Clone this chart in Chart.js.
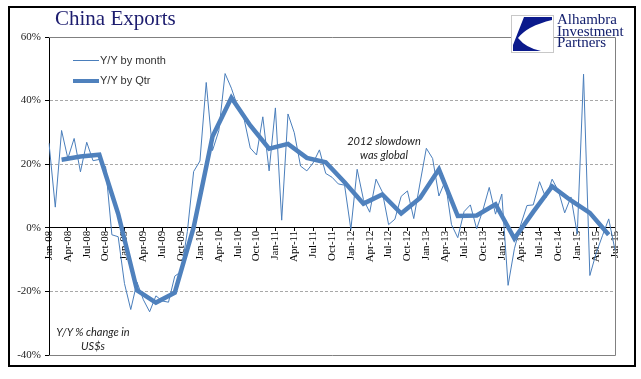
<!DOCTYPE html>
<html>
<head>
<meta charset="utf-8">
<script src="https://cdn.jsdelivr.net/npm/chart.js@4.4.1/dist/chart.umd.min.js"></script>
<style>
  body { margin: 0; background: #fff; }
  #wrap { position: relative; width: 641px; height: 379px; overflow: hidden; }
  #frame { position: absolute; left: 8px; top: 6px; width: 624px; height: 357px; border: 2px solid #000; pointer-events: none; }
  .txt { position: absolute; white-space: nowrap; }
  #title { left: 55px; top: 8px; font: 21px "Liberation Serif", serif; color: #1c1c6e; line-height: 21px; }
  #logoText { left: 557px; top: 14px; font: 15px "Liberation Serif", serif; color: #14206e; line-height: 11.7px; }
  .leg { font: 11px "Liberation Sans", Arial, sans-serif; color: #333; line-height: 13px; }
  .note { font: italic 11px Lato, "Open Sans", sans-serif; color: #222; line-height: 13.5px; text-align: center; }
</style>
</head>
<body>
<div id="wrap">
  <canvas id="chart" width="641" height="379"></canvas>
  <div id="frame"></div>
  <div class="txt" id="title">China Exports</div>
  <svg style="position:absolute;left:511px;top:15px" width="43" height="38" viewBox="0 0 43 38">
    <rect x="0.5" y="0.5" width="42" height="37" fill="#fff" stroke="#c8c8c8"/>
    <path d="M13,2 L41,2 L41,5 Q16,11 7,23 Q15,33 30,36 L2,36 L2,30 Z" fill="#0b1a8c"/>
  </svg>
  <div class="txt" id="logoText">Alhambra<br>Investment<br>Partners</div>

  <div style="position:absolute;left:73px;top:60px;width:26px;height:1px;background:#4a7ebb"></div>
  <div class="txt leg" style="left:100px;top:54px">Y/Y by month</div>
  <div style="position:absolute;left:73px;top:79px;width:26px;height:4px;background:#4f81bd"></div>
  <div class="txt leg" style="left:100px;top:74px">Y/Y by Qtr</div>

  <div class="txt note" style="left:334px;top:134px;width:100px">2012 slowdown<br>was global</div>
  <div class="txt note" style="left:43px;top:325px;width:100px">Y/Y % change in<br>US$s</div>
</div>
<script>
// months Jan-08 .. Jul-15
const monthNames = ['Jan','Feb','Mar','Apr','May','Jun','Jul','Aug','Sep','Oct','Nov','Dec'];
const months = [];
for (let y = 8; y <= 15; y++) {
    for (let m = 0; m < 12; m++) {
        if (y === 15 && m > 6) break;
        months.push(monthNames[m] + '-' + String(y).padStart(2, '0'));
    }
}

// Y/Y by month (%)
const yoyMonth = [
    26.6, 6.5, 30.6, 21.8, 28.1, 17.6, 26.9, 21.1, 21.5, 19.2, -2.2, -2.8,      // 2008
    -17.5, -25.7, -17.1, -22.6, -26.4, -21.4, -23.0, -23.4, -15.2, -13.8, -1.2, 17.7, // 2009
    21.0, 45.7, 24.3, 30.5, 48.5, 43.9, 38.1, 34.4, 25.1, 22.9, 34.9, 17.9,     // 2010
    37.7, 2.4, 35.8, 29.9, 19.4, 17.9, 20.4, 24.5, 17.1, 15.9, 13.8, 13.4,      // 2011
    -0.5, 18.4, 8.9, 4.9, 15.3, 11.3, 1.0, 2.7, 9.9, 11.6, 2.9, 14.1,           // 2012
    25.0, 21.8, 10.0, 14.7, 1.0, -3.1, 5.1, 7.2, -0.3, 5.6, 12.7, 4.3,          // 2013
    10.6, -18.1, -6.6, 0.9, 7.0, 7.2, 14.5, 9.4, 15.3, 11.6, 4.7, 9.7,          // 2014
    -2.0, 48.3, -15.0, -8.0, -2.5, 2.8, -7.0                                    // 2015
];

// Y/Y by quarter (%), plotted at quarter-end months Mar-08 .. Jun-15
const yoyQtr = [
    21.4, 22.4, 23.0, 4.4,
    -19.7, -23.5, -20.4, 0.1,
    28.7, 40.9, 32.2, 24.9,
    26.4, 22.0, 20.6, 14.3,
    7.6, 10.5, 4.5, 9.4,
    18.4, 3.7, 3.9, 7.4,
    -3.4, 5.0, 13.0, 8.6,
    4.7, -2.2
];

const yTicks = [-40, -20, 0, 20, 40, 60];

const qtrData = months.map((m, i) => (i % 3 === 2 && yoyQtr[(i - 2) / 3] !== undefined) ? yoyQtr[(i - 2) / 3] : null);

// solid grey frame on top/right/bottom of plot area
const plotFrame = {
    id: 'plotFrame',
    beforeDatasetsDraw(chart) {
        const {ctx, chartArea: a} = chart;
        ctx.save();
        ctx.strokeStyle = '#808080';
        ctx.lineWidth = 1;
        ctx.beginPath();
        ctx.moveTo(a.left, Math.round(a.top) + 0.5);
        ctx.lineTo(Math.round(a.right) + 0.5, Math.round(a.top) + 0.5);
        ctx.lineTo(Math.round(a.right) + 0.5, Math.round(a.bottom) + 0.5);
        ctx.lineTo(a.left, Math.round(a.bottom) + 0.5);
        ctx.stroke();
        ctx.restore();
    }
};

new Chart(document.getElementById('chart').getContext('2d'), {
    type: 'line',
    data: {
        labels: months,
        datasets: [
            {
                label: 'Y/Y by Qtr',
                data: qtrData,
                borderColor: '#4f81bd',
                borderWidth: 4.5,
                pointRadius: 0,
                spanGaps: true,
                tension: 0,
                order: 0
            },
            {
                label: 'Y/Y by month',
                data: yoyMonth,
                borderColor: '#4a7ebb',
                borderWidth: 1,
                pointRadius: 0,
                tension: 0,
                order: 1
            }
        ]
    },
    options: {
        responsive: false,
        animation: false,
        devicePixelRatio: 1,
        layout: { padding: { left: 0, top: 37, right: 26, bottom: 24 } },
        plugins: { legend: { display: false }, tooltip: { enabled: false } },
        scales: {
            x: {
                position: { y: 0 },
                grid: {
                    drawOnChartArea: false,
                    tickLength: 3,
                    tickColor: (c) => (c.index % 3 === 0 ? '#000' : 'rgba(0,0,0,0)')
                },
                border: { color: '#000', width: 1 },
                ticks: {
                    autoSkip: false,
                    minRotation: 90,
                    maxRotation: 90,
                    padding: 0,
                    color: '#000',
                    font: { family: '"Liberation Serif", serif', size: 11 },
                    callback: function(val, i) { return i % 3 === 0 ? this.getLabelForValue(val) : ''; }
                }
            },
            y: {
                min: yTicks[0],
                max: yTicks[yTicks.length - 1],
                afterFit(scale) { scale.width = 49; },
                afterBuildTicks(scale) { scale.ticks = yTicks.map(v => ({ value: v })); },
                grid: {
                    color: (c) => ([20, 40, -20].includes(c.tick.value) ? '#a8a8a8' : 'rgba(0,0,0,0)'),
                    tickColor: '#000',
                    tickLength: 4
                },
                border: { color: '#000', width: 1, dash: [3, 2] },
                ticks: {
                    padding: 4,
                    color: '#222',
                    font: { family: '"Liberation Serif", serif', size: 11 },
                    callback: (v) => v + '%'
                }
            }
        }
    },
    plugins: [plotFrame]
});
</script>
</body>
</html>
